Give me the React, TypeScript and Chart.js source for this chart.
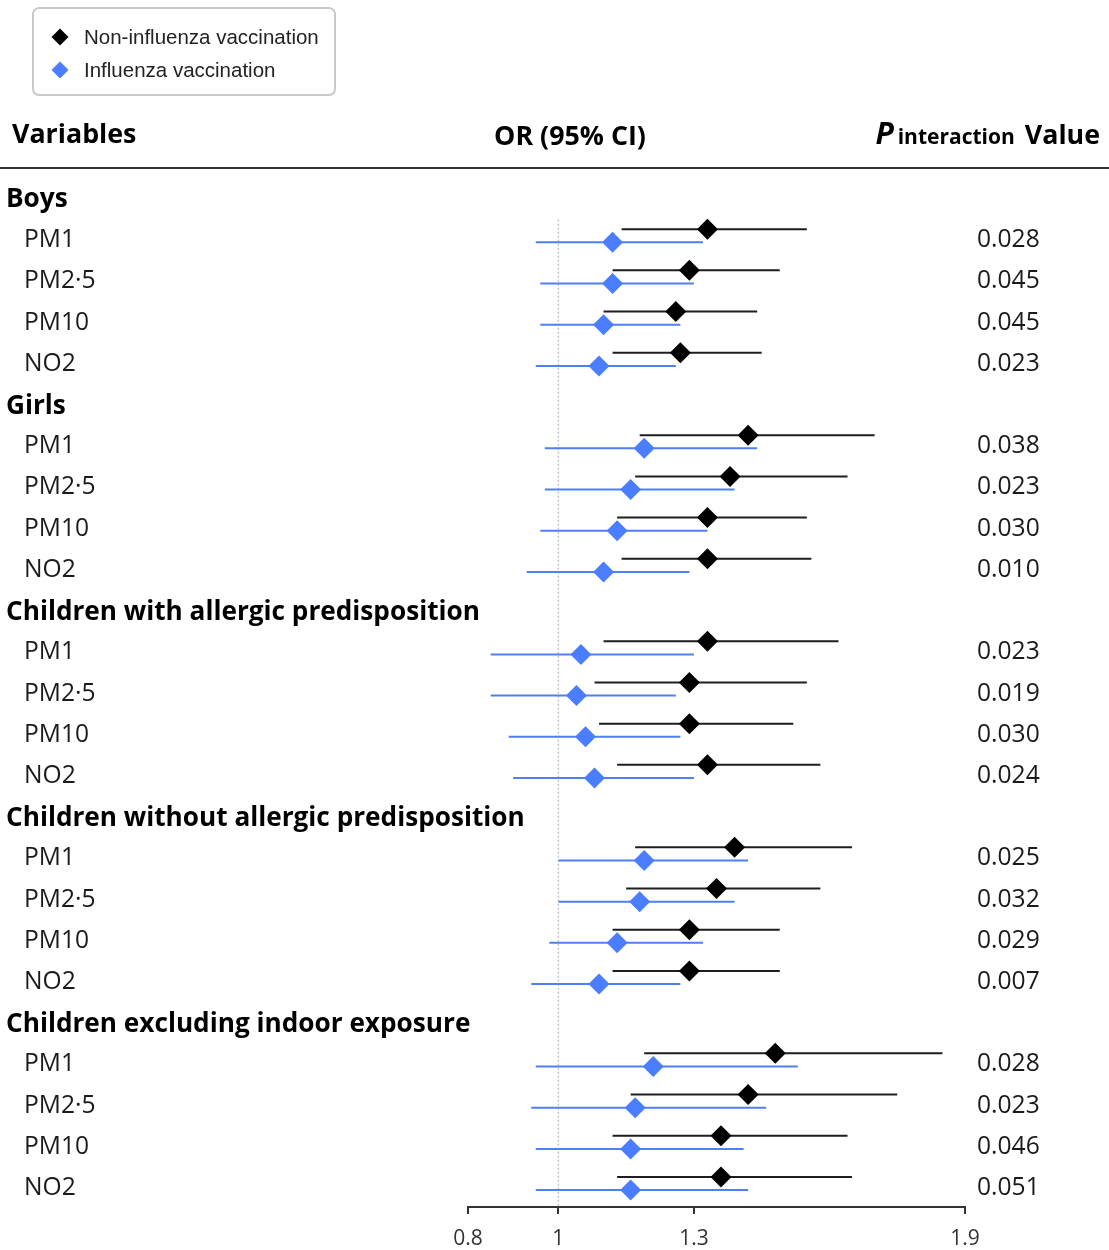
import React, { useEffect, useRef } from "react";
import { Chart, registerables } from "chart.js";

Chart.register(...registerables);

// ---------- data ----------
const groups = [
  "Boys",
  "Girls",
  "Children with allergic predisposition",
  "Children without allergic predisposition",
  "Children excluding indoor exposure",
];
const pollutants = ["PM1", "PM2·5", "PM10", "NO2"];

// Non-influenza vaccination (black)
const nonOR = [1.33, 1.29, 1.26, 1.27, 1.42, 1.38, 1.33, 1.33, 1.33, 1.29, 1.29, 1.33, 1.39, 1.35, 1.29, 1.29, 1.48, 1.42, 1.36, 1.36];
const nonLo = [1.14, 1.12, 1.10, 1.12, 1.18, 1.17, 1.13, 1.14, 1.10, 1.08, 1.09, 1.13, 1.17, 1.15, 1.12, 1.12, 1.19, 1.16, 1.12, 1.13];
const nonHi = [1.55, 1.49, 1.44, 1.45, 1.70, 1.64, 1.55, 1.56, 1.62, 1.55, 1.52, 1.58, 1.65, 1.58, 1.49, 1.49, 1.85, 1.75, 1.64, 1.65];

// Influenza vaccination (blue)
const fluOR = [1.12, 1.12, 1.10, 1.09, 1.19, 1.16, 1.13, 1.10, 1.05, 1.04, 1.06, 1.08, 1.19, 1.18, 1.13, 1.09, 1.21, 1.17, 1.16, 1.16];
const fluLo = [0.95, 0.96, 0.96, 0.95, 0.97, 0.97, 0.96, 0.93, 0.85, 0.85, 0.89, 0.90, 1.00, 1.00, 0.98, 0.94, 0.95, 0.94, 0.95, 0.95];
const fluHi = [1.32, 1.30, 1.27, 1.26, 1.44, 1.39, 1.33, 1.29, 1.30, 1.26, 1.27, 1.30, 1.42, 1.39, 1.32, 1.27, 1.53, 1.46, 1.41, 1.42];

const pValues = [
  "0.028", "0.045", "0.045", "0.023",
  "0.038", "0.023", "0.030", "0.010",
  "0.023", "0.019", "0.030", "0.024",
  "0.025", "0.032", "0.029", "0.007",
  "0.028", "0.023", "0.046", "0.051",
];

const xTicks = [0.8, 1, 1.3, 1.9];
const legendLabels = ["Non-influenza vaccination", "Influenza vaccination"];

// ---------- styles ----------
const BLACK = "#000000";
const BLACK_LINE = "#1e1e1e";
const BLUE = "#4a7dff";
const BLUE_LINE = "#4f80f2";
const SANS = "'Open Sans', 'DejaVu Sans', sans-serif";

const rowOf = (k: number) => Math.floor(k / 4) * 5 + 1 + (k % 4);
const NON_OFF = -0.22;
const FLU_OFF = 0.1;

export default function App() {
  const ref = useRef<HTMLCanvasElement>(null);

  useEffect(() => {
    if (!ref.current) return;

    const nonPts = nonOR.map((v, k) => ({ x: v, y: rowOf(k) + NON_OFF }));
    const fluPts = fluOR.map((v, k) => ({ x: v, y: rowOf(k) + FLU_OFF }));
    const nonCI: any[] = [];
    nonLo.forEach((lo, k) => {
      const y = rowOf(k) + NON_OFF;
      nonCI.push({ x: lo, y }, { x: nonHi[k], y }, { x: null, y: null });
    });
    const fluCI: any[] = [];
    fluLo.forEach((lo, k) => {
      const y = rowOf(k) + FLU_OFF;
      fluCI.push({ x: lo, y }, { x: fluHi[k], y }, { x: null, y: null });
    });

    const decor = {
      id: "forestDecor",
      beforeDatasetsDraw(chart: any) {
        const { ctx, chartArea, scales } = chart;
        const x1 = scales.x.getPixelForValue(1);
        const yTop = scales.y.getPixelForValue(0.55);
        ctx.save();
        ctx.strokeStyle = "#c4c4c4";
        ctx.lineWidth = 1.5;
        ctx.setLineDash([2, 2]);
        ctx.beginPath();
        ctx.moveTo(x1, yTop);
        ctx.lineTo(x1, chartArea.bottom);
        ctx.stroke();
        ctx.restore();
      },
      afterDraw(chart: any) {
        const { ctx, scales, width } = chart;
        const yS = scales.y;
        ctx.save();

        // Legend box
        ctx.strokeStyle = "#c9c9c9";
        ctx.lineWidth = 2;
        ctx.beginPath();
        (ctx as any).roundRect(33, 8, 302, 87, 6);
        ctx.stroke();
        const legColors = [BLACK, BLUE];
        legendLabels.forEach((lab, i) => {
          const cy = 37 + i * 33;
          const cx = 60;
          const r = 8.5;
          ctx.fillStyle = legColors[i];
          ctx.beginPath();
          ctx.moveTo(cx, cy - r);
          ctx.lineTo(cx + r, cy);
          ctx.lineTo(cx, cy + r);
          ctx.lineTo(cx - r, cy);
          ctx.closePath();
          ctx.fill();
          ctx.fillStyle = "#222";
          ctx.font = "20.5px 'Liberation Sans', Arial, sans-serif";
          ctx.textAlign = "left";
          ctx.textBaseline = "middle";
          ctx.fillText(lab, 84, cy + 1);
        });

        // Column headers
        ctx.fillStyle = "#000";
        ctx.textBaseline = "alphabetic";
        ctx.font = `bold 26.8px ${SANS}`;
        ctx.textAlign = "left";
        ctx.fillText("Variables", 12, 143);
        ctx.textAlign = "center";
        ctx.fillText("OR (95% CI)", 570, 145);
        ctx.textAlign = "right";
        ctx.fillText("Value", 1100, 144);
        const wValue = ctx.measureText("Value").width;
        ctx.font = `bold 21px ${SANS}`;
        const interRight = 1100 - wValue - 10;
        ctx.fillText("interaction", interRight, 144);
        const wInter = ctx.measureText("interaction").width;
        ctx.font = `italic bold 30px ${SANS}`;
        ctx.fillText("P", interRight - wInter - 4, 144);

        // header rule
        ctx.strokeStyle = "#333";
        ctx.lineWidth = 2;
        ctx.beginPath();
        ctx.moveTo(0, 168);
        ctx.lineTo(width, 168);
        ctx.stroke();

        // Row labels
        ctx.textBaseline = "middle";
        groups.forEach((g, gi) => {
          ctx.fillStyle = "#000";
          ctx.font = `bold 26.2px ${SANS}`;
          ctx.textAlign = "left";
          ctx.fillText(g, 6, yS.getPixelForValue(gi * 5) + 3);
        });
        for (let k = 0; k < nonOR.length; k++) {
          const y = yS.getPixelForValue(rowOf(k)) + 2;
          ctx.fillStyle = "#1a1a1a";
          ctx.font = `24.6px ${SANS}`;
          ctx.textAlign = "left";
          ctx.fillText(pollutants[k % 4], 24, y);
          ctx.fillText(pValues[k], 977, y);
        }
        ctx.restore();
      },
    };

    const chart = new Chart(ref.current, {
      type: "scatter",
      data: {
        datasets: [
          {
            label: legendLabels[0],
            data: nonPts,
            pointStyle: "rectRot",
            pointRadius: 10.5,
            backgroundColor: BLACK,
            borderColor: BLACK,
            borderWidth: 0,
            order: 0,
          },
          {
            label: legendLabels[1],
            data: fluPts,
            pointStyle: "rectRot",
            pointRadius: 10.5,
            backgroundColor: BLUE,
            borderColor: BLUE,
            borderWidth: 0,
            order: 0,
          },
          {
            label: legendLabels[0] + " CI",
            data: nonCI,
            showLine: true,
            spanGaps: false,
            pointRadius: 0,
            borderColor: BLACK_LINE,
            borderWidth: 2,
            order: 2,
          },
          {
            label: legendLabels[1] + " CI",
            data: fluCI,
            showLine: true,
            spanGaps: false,
            pointRadius: 0,
            borderColor: BLUE_LINE,
            borderWidth: 2,
            order: 1,
          },
        ] as any,
      },
      options: {
        responsive: false,
        animation: false,
        devicePixelRatio: 1,
        layout: { padding: { left: 468, right: 144, top: 168, bottom: 0 } },
        plugins: {
          legend: { display: false },
          tooltip: { enabled: false },
        },
        scales: {
          x: {
            type: "linear",
            position: "bottom",
            min: 0.8,
            max: 1.9,
            afterBuildTicks: (s: any) => {
              s.ticks = xTicks.map((v) => ({ value: v }));
            },
            afterFit: (s: any) => {
              s.height = 43;
            },
            grid: {
              drawOnChartArea: false,
              drawTicks: true,
              tickLength: 7,
              color: "#333",
              lineWidth: 2,
            },
            border: { display: true, color: "#333", width: 2 },
            ticks: {
              color: "#333",
              font: { size: 21, family: SANS },
              padding: 12,
              maxRotation: 0,
              autoSkip: false,
              callback: (v: any) => String(v),
            },
          },
          y: {
            type: "linear",
            display: false,
            reverse: true,
            min: -0.704,
            max: 24.51,
          },
        },
      } as any,
      plugins: [decor],
    });

    return () => chart.destroy();
  }, []);

  return (
    <div style={{ position: "absolute", left: 0, top: 0, width: 1109, height: 1250, background: "#fff" }}>
      <canvas ref={ref} width={1109} height={1250} style={{ display: "block", width: 1109, height: 1250 }} />
    </div>
  );
}
